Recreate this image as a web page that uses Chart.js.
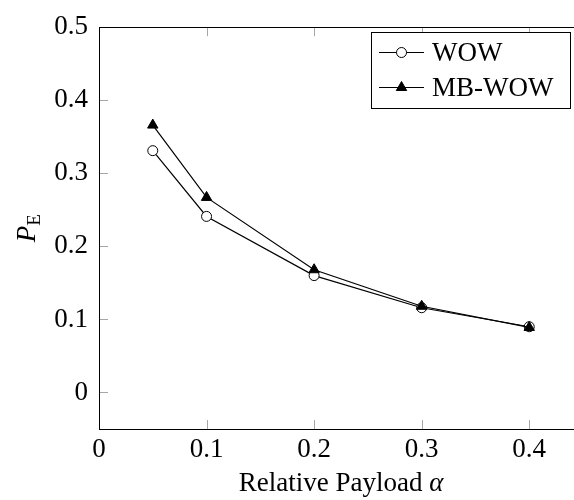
<!DOCTYPE html>
<html>
<head>
<meta charset="utf-8">
<script src="https://cdn.jsdelivr.net/npm/chart.js@4.4.0/dist/chart.umd.min.js"></script>
<style>
  html, body { margin: 0; padding: 0; background: #fff; overflow: hidden; }
  #wrap { width: 574px; height: 500px; overflow: hidden; }
</style>
</head>
<body>
<div id="wrap"><canvas id="chart" width="600" height="500"></canvas></div>
<script>
// Data
const payload = [0.05, 0.1, 0.2, 0.3, 0.4];
const wowValues = [0.331, 0.241, 0.160, 0.116, 0.090];
const mbWowValues = [0.366, 0.267, 0.168, 0.118, 0.089];
const seriesNames = ['WOW', 'MB-WOW'];
const xTickValues = [0, 0.1, 0.2, 0.3, 0.4];
const yTickValues = [0, 0.1, 0.2, 0.3, 0.4, 0.5];

const FONT = '"Liberation Serif", "Times New Roman", serif';
const FONT_SIZE = 27;
const TICK_GRAY = '#a8a8a8';

const toPoints = ys => payload.map((x, i) => ({ x: x, y: ys[i] }));

// pgfplots-like box: black frame with small grey ticks pointing inward on all sides
const framePlugin = {
    id: 'frame',
    beforeDatasetsDraw(chart) {
        const { ctx, chartArea: a, scales } = chart;
        const len = 9;
        ctx.save();
        ctx.strokeStyle = TICK_GRAY;
        ctx.lineWidth = 1;
        ctx.beginPath();
        xTickValues.forEach(v => {
            const px = Math.round(scales.x.getPixelForValue(v)) + 0.5;
            ctx.moveTo(px, a.bottom); ctx.lineTo(px, a.bottom - len);
            ctx.moveTo(px, a.top); ctx.lineTo(px, a.top + len);
        });
        yTickValues.forEach(v => {
            const py = Math.round(scales.y.getPixelForValue(v)) + 0.5;
            ctx.moveTo(a.left, py); ctx.lineTo(a.left + len, py);
            ctx.moveTo(a.right, py); ctx.lineTo(a.right - len, py);
        });
        ctx.stroke();
        ctx.strokeStyle = '#000';
        ctx.strokeRect(Math.round(a.left) + 0.5, Math.round(a.top) + 0.5,
            Math.round(a.right - a.left), Math.round(a.bottom - a.top));
        ctx.restore();
    }
};

// axis titles with italic symbols and a subscript
const titlesPlugin = {
    id: 'titles',
    afterDraw(chart) {
        const { ctx, chartArea: a } = chart;
        ctx.save();
        ctx.fillStyle = '#000';
        ctx.textBaseline = 'alphabetic';

        // x title: "Relative Payload α"
        const roman = FONT_SIZE + 'px ' + FONT;
        const italic = 'italic ' + FONT_SIZE + 'px ' + FONT;
        ctx.font = roman;
        const w1 = ctx.measureText('Relative Payload ').width;
        ctx.font = italic;
        const w2 = ctx.measureText('α').width;
        let x0 = (a.left + a.right) / 2 - (w1 + w2) / 2;
        ctx.font = roman;
        ctx.textAlign = 'left';
        ctx.fillText('Relative Payload ', x0, 491);
        ctx.font = italic;
        ctx.fillText('α', x0 + w1, 491);

        // y title: P_E rotated
        ctx.translate(35, (a.top + a.bottom) / 2);
        ctx.rotate(-Math.PI / 2);
        ctx.font = italic;
        const pw = ctx.measureText('P').width;
        ctx.font = '19px ' + FONT;
        const ew = ctx.measureText('E').width;
        const sx = -(pw + ew) / 2;
        ctx.font = italic;
        ctx.fillText('P', sx, 0);
        ctx.font = '19px ' + FONT;
        ctx.fillText('E', sx + pw, 5);
        ctx.restore();
    }
};

// legend box in the top right corner of the plot
const legendPlugin = {
    id: 'boxLegend',
    afterDatasetsDraw(chart) {
        const { ctx } = chart;
        const box = { x: 371.5, y: 32.5, w: 199, h: 76 };
        const rows = [52, 87];
        ctx.save();
        ctx.fillStyle = '#fff';
        ctx.fillRect(box.x, box.y, box.w, box.h);
        ctx.strokeStyle = '#000';
        ctx.lineWidth = 1;
        ctx.strokeRect(box.x, box.y, box.w, box.h);
        chart.data.datasets.forEach((ds, i) => {
            const y = rows[i];
            ctx.strokeStyle = '#000';
            ctx.lineWidth = 1;
            ctx.beginPath();
            ctx.moveTo(379, y + 0.5);
            ctx.lineTo(424, y + 0.5);
            ctx.stroke();
            ctx.fillStyle = ds.pointBackgroundColor;
            ctx.strokeStyle = ds.pointBorderColor;
            ctx.lineWidth = ds.pointBorderWidth;
            Chart.helpers.drawPoint(ctx, {
                pointStyle: ds.pointStyle,
                radius: ds.pointRadius,
                rotation: 0,
                borderWidth: ds.pointBorderWidth
            }, 401.5, y + 0.5);
            ctx.fillStyle = '#000';
            ctx.font = FONT_SIZE + 'px ' + FONT;
            ctx.textAlign = 'left';
            ctx.textBaseline = 'alphabetic';
            ctx.fillText(ds.label, 432, y + 9);
        });
        ctx.restore();
    }
};

new Chart(document.getElementById('chart'), {
    type: 'scatter',
    data: {
        datasets: [
            {
                label: seriesNames[0],
                data: toPoints(wowValues),
                showLine: true,
                borderColor: '#000',
                borderWidth: 1.2,
                pointStyle: 'circle',
                pointRadius: 5,
                pointBackgroundColor: '#fff',
                pointBorderColor: '#000',
                pointBorderWidth: 1,
                order: 1
            },
            {
                label: seriesNames[1],
                data: toPoints(mbWowValues),
                showLine: true,
                borderColor: '#000',
                borderWidth: 1.2,
                pointStyle: 'triangle',
                pointRadius: 6,
                pointBackgroundColor: '#000',
                pointBorderColor: '#000',
                pointBorderWidth: 1,
                order: 0
            }
        ]
    },
    options: {
        responsive: false,
        animation: false,
        events: [],
        layout: { padding: { left: 0, top: 20, right: 17, bottom: 0 } },
        plugins: {
            legend: { display: false },
            tooltip: { enabled: false }
        },
        scales: {
            x: {
                type: 'linear',
                min: 0,
                max: 0.45,
                afterBuildTicks: s => { s.ticks = xTickValues.map(v => ({ value: v })); },
                afterFit: s => { s.height = 71; },
                grid: { display: false, drawTicks: false },
                border: { display: false },
                ticks: {
                    color: '#000',
                    padding: 5,
                    maxRotation: 0,
                    font: { family: FONT, size: FONT_SIZE },
                    callback: v => String(v)
                }
            },
            y: {
                type: 'linear',
                min: -0.05,
                max: 0.5,
                afterBuildTicks: s => { s.ticks = yTickValues.map(v => ({ value: v })); },
                afterFit: s => { s.width = 99; },
                grid: { display: false, drawTicks: false },
                border: { display: false },
                ticks: {
                    color: '#000',
                    padding: 11,
                    font: { family: FONT, size: FONT_SIZE },
                    callback: v => String(v)
                }
            }
        }
    },
    plugins: [framePlugin, titlesPlugin, legendPlugin]
});
</script>
</body>
</html>
